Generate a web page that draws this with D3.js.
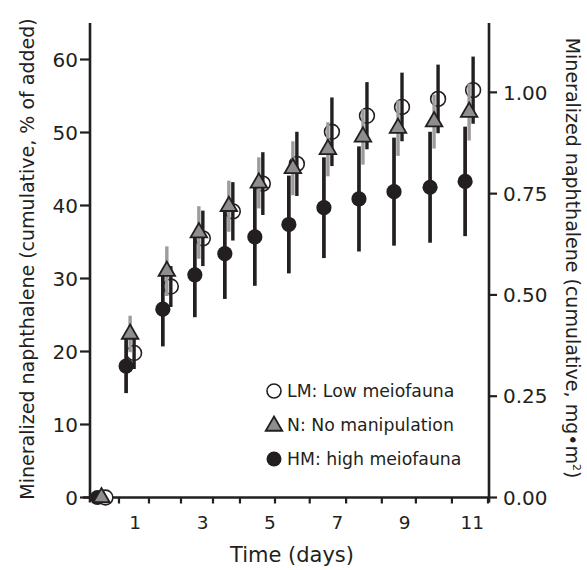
<!DOCTYPE html>
<html>
<head>
<meta charset="utf-8">
<script src="https://cdn.jsdelivr.net/npm/d3@7"></script>
<style>
  html, body { margin: 0; padding: 0; background: #fff; }
  svg { display: block; }
  text { font-family: "DejaVu Sans", sans-serif; fill: #231f20; }
</style>
</head>
<body>
<svg id="chart" width="587" height="570"></svg>
<script>
// ---- data ----
const times = [0, 0.85, 1.94, 2.89, 3.78, 4.67, 5.68, 6.72, 7.76, 8.80, 9.87, 10.91];
const lmMean = [0, 19.8, 28.9, 35.5, 39.2, 43.0, 45.7, 50.1, 52.3, 53.5, 54.6, 55.8];
const lmSd   = [0, 2.2, 2.8, 3.8, 4.0, 4.3, 4.4, 4.7, 4.6, 4.7, 4.7, 4.6];
const nMean  = [0, 22.4, 31.0, 36.3, 39.9, 43.1, 45.1, 47.7, 49.4, 50.6, 51.5, 52.8];
const nSd    = [0, 2.5, 3.4, 3.6, 3.5, 3.5, 3.7, 3.7, 3.8, 3.8, 3.7, 3.9];
const hmMean = [0, 18.0, 25.8, 30.5, 33.4, 35.7, 37.4, 39.7, 40.9, 41.9, 42.5, 43.3];
const hmSd   = [0, 3.7, 5.1, 5.8, 6.2, 6.7, 6.7, 6.9, 7.2, 7.4, 7.6, 7.5];
const xTickMarks = [0.52, 1.41, 2.36, 3.31, 4.11, 5.15, 6.18, 7.26, 8.32, 9.33, 10.40, 11.47];
const xTickLabels = [1, 3, 5, 7, 9, 11];
const yLeftTicks = [0, 10, 20, 30, 40, 50, 60];
const yRightTicks = [0, 0.25, 0.5, 0.75, 1.0];
const legendLabels = ["LM: Low meiofauna", "N: No manipulation", "HM: high meiofauna"];
const leftTitle = "Mineralized naphthalene (cumulative, % of added)";
const rightTitle = "Mineralized naphthalene (cumulative, mg\u2022m";
const xTitle = "Time (days)";

// ---- layout ----
const ink = "#231f20";
const grey = "#8e8e8e";
const barGrey = "#9c9c9c";
const pL = 90, pR = 489, pT = 23, pB = 497.5;
const svg = d3.select("#chart");

const x = d3.scaleLinear().domain([-0.34, 11.5]).range([pL, pR]);
const y = d3.scaleLinear().domain([0, 65]).range([pB, pT]);
const yR = d3.scaleLinear().domain([0, 65 / 55.5]).range([pB, pT]);

// axes
const gx = svg.append("g").attr("transform", `translate(0,${pB})`);
gx.append("line").attr("x1", pL - 7).attr("x2", pR).attr("stroke", ink).attr("stroke-width", 2.6);
gx.selectAll("line.tk").data(xTickMarks).join("line").attr("class", "tk")
  .attr("x1", d => x(d)).attr("x2", d => x(d)).attr("y1", 0).attr("y2", 6)
  .attr("stroke", ink).attr("stroke-width", 2.2);
gx.selectAll("text").data(xTickLabels).join("text")
  .attr("x", d => x(d)).attr("y", 31).attr("text-anchor", "middle")
  .attr("font-size", 18.5).text(d => d);

const gl = svg.append("g");
gl.append("line").attr("x1", pL).attr("x2", pL).attr("y1", pT).attr("y2", pB + 5)
  .attr("stroke", ink).attr("stroke-width", 2.6);
gl.selectAll("line.tk").data(yLeftTicks).join("line").attr("class", "tk")
  .attr("x1", pL - 10).attr("x2", pL).attr("y1", d => y(d)).attr("y2", d => y(d))
  .attr("stroke", ink).attr("stroke-width", 2.2);
gl.selectAll("text").data(yLeftTicks).join("text")
  .attr("x", pL - 12).attr("y", d => y(d)).attr("dy", "0.36em").attr("text-anchor", "end")
  .attr("font-size", 20).text(d => d);

const gr = svg.append("g");
gr.append("line").attr("x1", pR).attr("x2", pR).attr("y1", pT).attr("y2", pB + 5)
  .attr("stroke", ink).attr("stroke-width", 2.6);
gr.selectAll("line.tk").data(yRightTicks).join("line").attr("class", "tk")
  .attr("x1", pR).attr("x2", pR + 8).attr("y1", d => yR(d)).attr("y2", d => yR(d))
  .attr("stroke", ink).attr("stroke-width", 2.2);
gr.selectAll("text").data(yRightTicks).join("text")
  .attr("x", pR + 14).attr("y", d => yR(d)).attr("dy", "0.36em")
  .attr("font-size", 20).text(d => d3.format(".2f")(d));

// titles
svg.append("text").attr("transform", `translate(34,259) rotate(-90)`)
  .attr("text-anchor", "middle").attr("font-size", 19).text(leftTitle);
const rt = svg.append("text").attr("transform", `translate(566,258) rotate(90)`)
  .attr("text-anchor", "middle").attr("font-size", 19);
rt.append("tspan").text(rightTitle);
rt.append("tspan").attr("dy", -7).attr("font-size", 11).text("2");
rt.append("tspan").attr("dy", 7).text(")");
svg.append("text").attr("x", 292).attr("y", 562).attr("text-anchor", "middle")
  .attr("font-size", 21).text(xTitle);

// ---- data marks ----
const dodge = 4;
const rows = times.map((t, i) => ({ t, lm: lmMean[i], lmSd: lmSd[i], n: nMean[i], nSd: nSd[i], hm: hmMean[i], hmSd: hmSd[i] }));
const withBars = rows.filter(d => d.lmSd > 0);
const tri = d3.symbol().type(d3.symbolTriangle).size(118);

// LM circles (white), drawn first
svg.append("g").selectAll("circle").data(rows).join("circle")
  .attr("cx", d => x(d.t) + dodge).attr("cy", d => y(d.lm)).attr("r", 7.4)
  .attr("fill", "#fff").attr("stroke", ink).attr("stroke-width", 1.6);

// N error bars (grey) and LM error bars (black)
svg.append("g").selectAll("line").data(withBars).join("line")
  .attr("x1", d => x(d.t)).attr("x2", d => x(d.t))
  .attr("y1", d => y(d.n - d.nSd)).attr("y2", d => y(d.n + d.nSd))
  .attr("stroke", barGrey).attr("stroke-width", 3.4);
svg.append("g").selectAll("line").data(withBars).join("line")
  .attr("x1", d => x(d.t) + dodge).attr("x2", d => x(d.t) + dodge)
  .attr("y1", d => y(d.lm - d.lmSd)).attr("y2", d => y(d.lm + d.lmSd))
  .attr("stroke", ink).attr("stroke-width", 3.4);

// HM error bars
svg.append("g").selectAll("line").data(withBars).join("line")
  .attr("x1", d => x(d.t) - dodge).attr("x2", d => x(d.t) - dodge)
  .attr("y1", d => y(d.hm - d.hmSd)).attr("y2", d => y(d.hm + d.hmSd))
  .attr("stroke", ink).attr("stroke-width", 3.7);

// HM circles (black)
svg.append("g").selectAll("circle").data(rows).join("circle")
  .attr("cx", d => x(d.t) - dodge).attr("cy", d => y(d.hm)).attr("r", 7.6)
  .attr("fill", ink);

// N triangles (grey)
svg.append("g").selectAll("path").data(rows).join("path")
  .attr("d", tri)
  .attr("transform", d => `translate(${x(d.t)},${y(d.n)})`)
  .attr("fill", grey).attr("stroke", ink).attr("stroke-width", 1.8).attr("stroke-linejoin", "miter");

// ---- legend ----
const lg = svg.append("g").attr("transform", "translate(274,391)");
const items = lg.selectAll("g").data(legendLabels).join("g")
  .attr("transform", (d, i) => `translate(0,${i * 34})`);
items.append("text").attr("x", 13).attr("dy", "0.36em").attr("font-size", 17.3).text(d => d);
items.filter((d, i) => i === 0).append("circle").attr("r", 7)
  .attr("fill", "#fff").attr("stroke", ink).attr("stroke-width", 1.6);
items.filter((d, i) => i === 1).append("path").attr("d", tri).attr("transform", "translate(0,1)")
  .attr("fill", grey).attr("stroke", ink).attr("stroke-width", 1.8);
items.filter((d, i) => i === 2).append("circle").attr("r", 7.5).attr("fill", ink);
</script>
</body>
</html>
